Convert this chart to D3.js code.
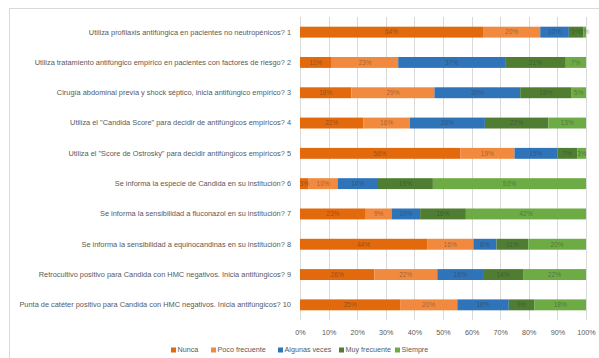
<!DOCTYPE html>
<html>
<head>
<meta charset="utf-8">
<script src="https://cdn.jsdelivr.net/npm/d3@7"></script>
<style>
  body { margin: 0; background: #fff; }
  svg { font-family: "Liberation Sans", Arial, sans-serif; }
</style>
</head>
<body>
<svg id="chart" width="599" height="358"></svg>
<script>
const questions = [
  'Utiliza profilaxis antifúngica en pacientes no neutropénicos? 1',
  'Utiliza tratamiento antifúngico empírico en pacientes con factores de riesgo? 2',
  'Cirugía abdominal previa y shock séptico, inicia antifúngico empírico? 3',
  'Utiliza el "Candida Score" para decidir de antifúngicos empíricos? 4',
  'Utiliza el "Score de Ostrosky" para decidir antifúngicos empíricos? 5',
  'Se informa la especie de Candida en su institución? 6',
  'Se informa la sensibilidad a fluconazol en su institución? 7',
  'Se informa la sensibilidad a equinocandinas en su institución? 8',
  'Retrocultivo positivo para Candida con HMC negativos. Inicia antifúngicos? 9',
  'Punta de catéter positivo para Candida con HMC negativos. Inicia antifúngicos? 10'
];
const answers = ['Nunca', 'Poco frecuente', 'Algunas veces', 'Muy frecuente', 'Siempre'];
const nunca = [64, 11, 18, 22, 56, 3, 23, 44, 26, 35];
const poco = [20, 23, 29, 16, 19, 10, 9, 16, 22, 20];
const algunas = [10, 37, 30, 26, 15, 14, 10, 8, 16, 18];
const muy = [5, 21, 18, 22, 7, 19, 16, 11, 14, 9];
const siempre = [1, 7, 5, 13, 3, 53, 42, 20, 22, 18];
const ticks = [0, 0.1, 0.2, 0.3, 0.4, 0.5, 0.6, 0.7, 0.8, 0.9, 1];
const colors = ['#e2690c', '#f18a3e', '#2f73b8', '#4f7e32', '#6dab45'];

const svg = d3.select('#chart');
const margin = { top: 17, right: 13, bottom: 38, left: 300 };
const width = +svg.attr('width') - margin.left - margin.right;
const height = +svg.attr('height') - margin.top - margin.bottom;

// chart frame
svg.append('rect')
  .attr('x', 9.5).attr('y', 8.5)
  .attr('width', 600).attr('height', 360)
  .attr('fill', 'none')
  .attr('stroke', '#d9d9d9');

const rows = questions.map((q, i) => ({
  q,
  Nunca: nunca[i],
  'Poco frecuente': poco[i],
  'Algunas veces': algunas[i],
  'Muy frecuente': muy[i],
  Siempre: siempre[i]
}));

const series = d3.stack().keys(answers).offset(d3.stackOffsetExpand)(rows);

const x = d3.scaleLinear().domain([0, 1]).range([0, width]);
const y = d3.scaleBand().domain(questions).range([0, height]).paddingInner(0.64).paddingOuter(0.32);
const color = d3.scaleOrdinal().domain(answers).range(colors);

const g = svg.append('g').attr('transform', `translate(${margin.left},${margin.top})`);

// grid
g.append('g')
  .selectAll('line')
  .data(ticks)
  .enter().append('line')
  .attr('x1', d => Math.round(x(d)) + 0.5)
  .attr('x2', d => Math.round(x(d)) + 0.5)
  .attr('y1', 0)
  .attr('y2', height)
  .attr('stroke', '#d9d9d9');

// bars
const layer = g.selectAll('.layer')
  .data(series)
  .enter().append('g')
  .attr('class', 'layer')
  .attr('fill', d => color(d.key));

layer.selectAll('rect')
  .data(d => d)
  .enter().append('rect')
  .attr('x', d => x(d[0]))
  .attr('y', d => y(d.data.q))
  .attr('width', d => x(d[1]) - x(d[0]))
  .attr('height', y.bandwidth());

// value labels
series.forEach(s => {
  g.append('g').selectAll('text')
    .data(s)
    .enter().append('text')
    .attr('x', d => (x(d[0]) + x(d[1])) / 2)
    .attr('y', d => y(d.data.q) + y.bandwidth() / 2)
    .attr('dy', '0.35em')
    .attr('text-anchor', 'middle')
    .attr('font-size', 6.6)
    .attr('fill', '#303030')
    .attr('fill-opacity', 0.45)
    .text(d => `${d.data[s.key]}%`);
});

// category axis
const yAxis = g.append('g').call(d3.axisLeft(y).tickSize(0).tickPadding(9));
yAxis.select('.domain').remove();
yAxis.selectAll('text')
  .attr('font-size', 7.4)
  .attr('fill', '#595959')
  .attr('font-family', '"Liberation Sans", Arial, sans-serif');

// value axis
const xAxis = g.append('g')
  .attr('transform', `translate(0,${height})`)
  .call(d3.axisBottom(x).tickValues(ticks).tickFormat(d3.format('.0%')).tickSize(0).tickPadding(10));
xAxis.select('.domain').remove();
xAxis.selectAll('text')
  .attr('font-size', 7.2)
  .attr('fill', '#595959')
  .attr('font-family', '"Liberation Sans", Arial, sans-serif');

// legend
const legendX = [171, 211, 278, 339, 395];
const legend = svg.append('g').attr('transform', 'translate(0,352)');
const item = legend.selectAll('g')
  .data(answers)
  .enter().append('g')
  .attr('transform', (d, i) => `translate(${legendX[i]},0)`);
item.append('rect')
  .attr('x', 0).attr('y', -4.5)
  .attr('width', 5).attr('height', 5)
  .attr('fill', d => color(d));
item.append('text')
  .attr('x', 6.5)
  .attr('y', 0)
  .attr('dy', '0.05em')
  .attr('font-size', 7.2)
  .attr('fill', '#595959')
  .text(d => d);
</script>
</body>
</html>
